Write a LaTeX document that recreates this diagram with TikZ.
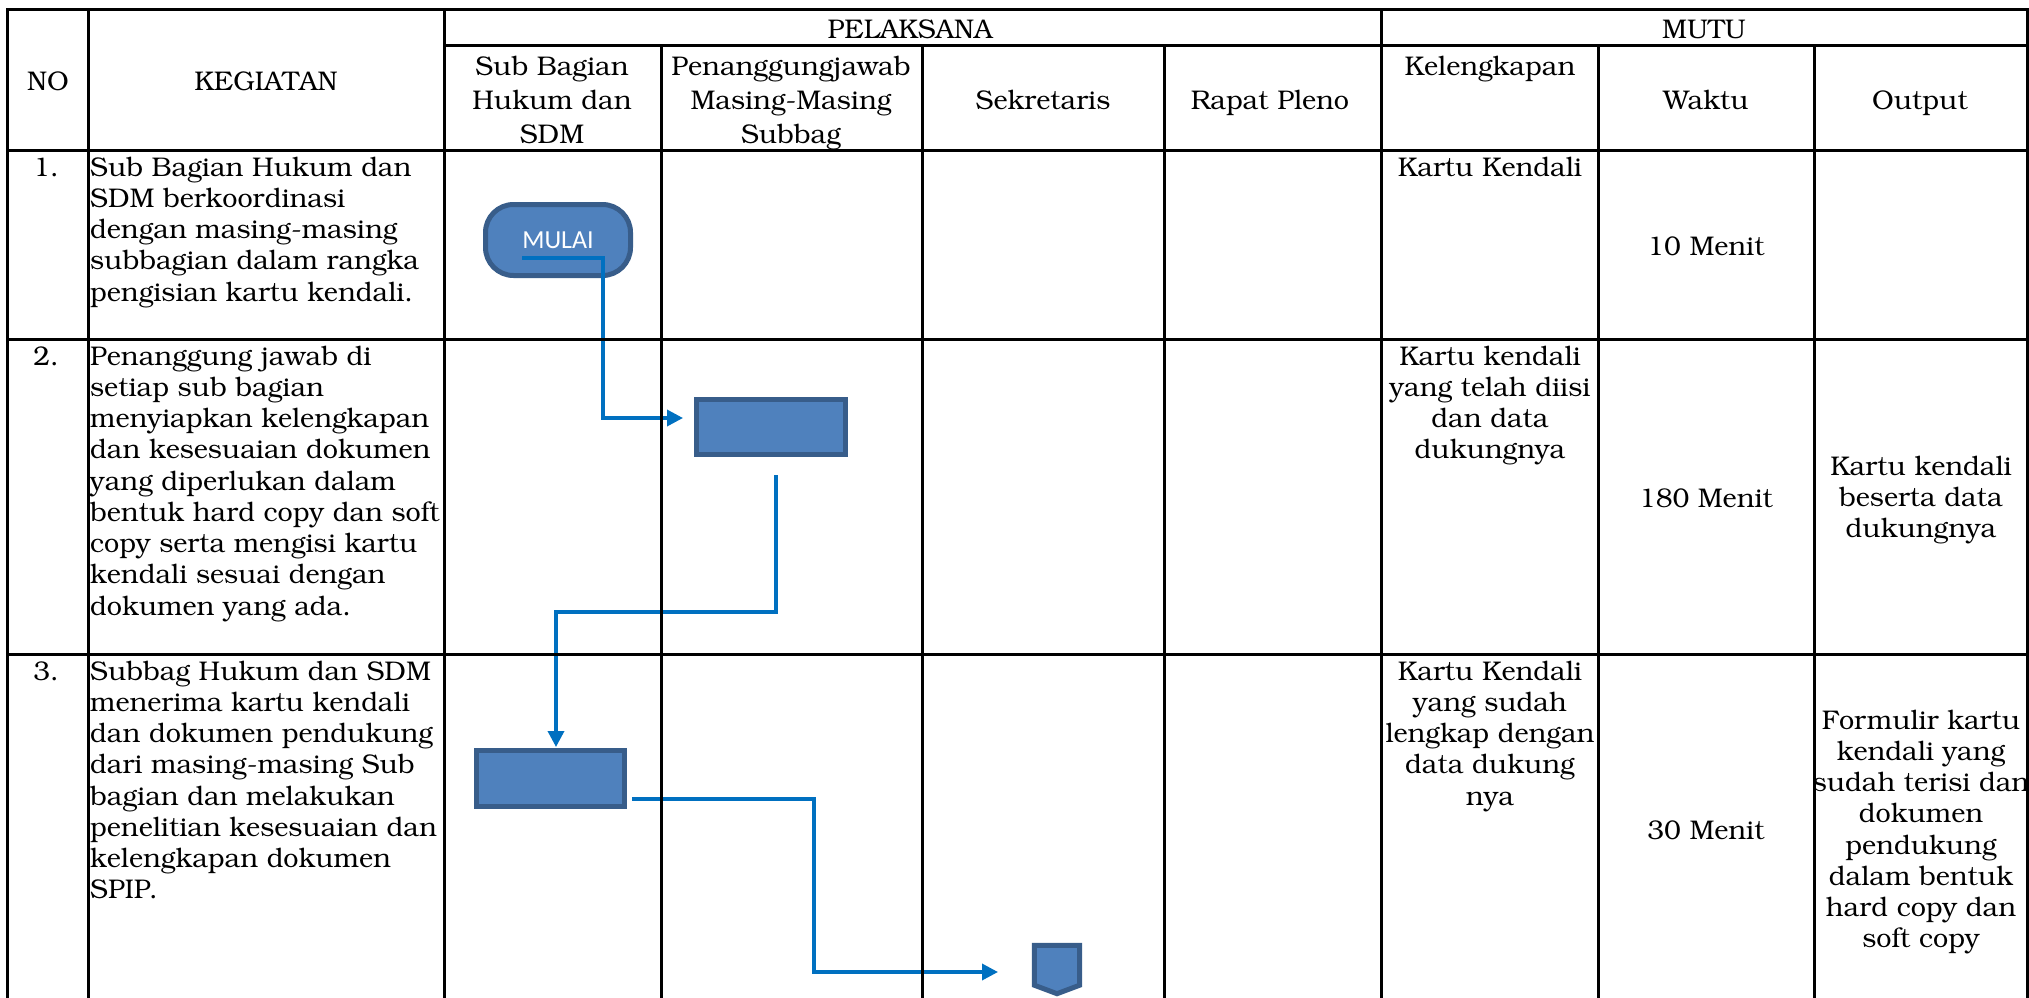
\documentclass[tikz,border=0pt]{standalone}
\usepackage[T1]{fontenc}
\usepackage{fontspec}
\newfontfamily\carlito{Carlito}
\usetikzlibrary{arrows.meta}
\newcommand\bkf{\fontencoding{T1}\fontfamily{pbk}\fontseries{m}\fontshape{n}\selectfont}
\newcommand\fls{\rule{0pt}{22pt}}
\definecolor{boxfill}{HTML}{4F81BD}
\definecolor{boxedge}{HTML}{385D8A}
\definecolor{connblue}{HTML}{0070C0}
\tikzset{
  gridline/.style={line width=3pt, line cap=rect, draw=black},
  body/.style={font=\bkf\fontsize{27}{31.25}\selectfont, inner sep=0pt},
  hdr/.style={font=\bkf\fontsize{27}{34}\selectfont, inner sep=0pt, align=center},
  proc/.style={draw=boxedge, fill=boxfill, line width=5pt, inner sep=0pt, line join=miter},
  conn/.style={draw=connblue, line width=3.5pt},
  tip/.style={-{Triangle[length=16pt,width=16pt]}},
}
\begin{document}
\begin{tikzpicture}[x=1pt,y=-1pt]
\useasboundingbox (0,0) rectangle (2029,998);
% shapes
\node[proc, rounded corners=28pt, minimum width=145pt, minimum height=71pt,
      font=\carlito\fontsize{26}{30}\selectfont, text=white] (mulai) at (558,240) {MULAI};
\node[proc, minimum width=149pt, minimum height=55pt] (pj1) at (771,427) {};
\node[proc, minimum width=148pt, minimum height=56pt] (sb2) at (550.5,778.5) {};
\node[minimum width=45pt, minimum height=48pt, inner sep=0pt] (offp) at (1057,969.5) {};
\draw[proc] (offp.north west) -- (offp.north east) -- ([yshift=8.5pt]offp.south east)
   -- (offp.south) -- ([yshift=8.5pt]offp.south west) -- cycle;
% connectors
\coordinate (s1) at (522,258); \coordinate (e1) at (683,418);
\draw[conn, tip] (s1) -| (603,418) -- (e1);
\coordinate (s2) at (776,475); \coordinate (e2) at (556,747);
\draw[conn, tip] (s2) |- (556,612) -- (e2);
\coordinate (s3) at (632,799); \coordinate (e3) at (998,972);
\draw[conn, tip] (s3) -| (814,972) -- (e3);
% grid
\draw[gridline] (7,10) -- (2027,10);
\draw[gridline] (444,46) -- (2027,46);
\draw[gridline] (7,150) -- (2027,150);
\draw[gridline] (7,339) -- (2027,339);
\draw[gridline] (7,654) -- (2027,654);
\foreach \x in {7,88,444,1381,2027} \draw[gridline] (\x,10) -- (\x,999);
\foreach \x in {661,922,1164,1598,1814} \draw[gridline] (\x,46) -- (\x,999);
% header
\node[hdr, anchor=base] (hno) at (48,90) {NO};
\node[hdr, anchor=base] (hkeg) at (266,90) {KEGIATAN};
\node[hdr, anchor=base] (hpel) at (910,39) {PELAKSANA};
\node[hdr, anchor=base] (hmutu) at (1704,39) {MUTU};
\node[hdr, anchor=north] (hsbh) at (552,53) {\fls Sub Bagian\\Hukum dan\\SDM};
\node[hdr, anchor=north] (hpj) at (791,53) {\fls Penanggungjawab\\Masing-Masing\\Subbag};
\node[hdr, anchor=base] (hsek) at (1043,109) {Sekretaris};
\node[hdr, anchor=base] (hrp) at (1270,109) {Rapat Pleno};
\node[hdr, anchor=base] (hkel) at (1490,75) {Kelengkapan};
\node[hdr, anchor=base] (hwak) at (1706,109) {Waktu};
\node[hdr, anchor=base] (hout) at (1920,109) {Output};
% numbers
\node[body, anchor=base east] (n1) at (59,176) {1.};
\node[body, anchor=base east] (n2) at (59,365) {2.};
\node[body, anchor=base east] (n3) at (59,680) {3.};
% kegiatan
\node[body, anchor=north west, align=left] (k1) at (90,154) {\fls Sub Bagian Hukum dan\\SDM berkoordinasi\\dengan masing-masing\\subbagian dalam rangka\\pengisian kartu kendali.};
\node[body, anchor=north west, align=left] (k2) at (90,343) {\fls Penanggung jawab di\\setiap sub bagian\\menyiapkan kelengkapan\\dan kesesuaian dokumen\\yang diperlukan dalam\\bentuk hard copy dan soft\\copy serta mengisi kartu\\kendali sesuai dengan\\dokumen yang ada.};
\node[body, anchor=north west, align=left] (k3) at (90,658) {\fls Subbag Hukum dan SDM\\menerima kartu kendali\\dan dokumen pendukung\\dari masing-masing Sub\\bagian dan melakukan\\penelitian kesesuaian dan\\kelengkapan dokumen\\SPIP.};
% mutu
\node[body, anchor=base] (kel1) at (1490,176) {Kartu Kendali};
\node[body, anchor=base] (w1) at (1706,255) {10 Menit};
\node[body, anchor=north, align=center] (kel2) at (1490,343) {\fls Kartu kendali\\yang telah diisi\\dan data\\dukungnya};
\node[body, anchor=base] (w2) at (1706,507) {180 Menit};
\node[body, anchor=north, align=center] (o2) at (1921,453) {\fls Kartu kendali\\beserta data\\dukungnya};
\node[body, anchor=north, align=center] (kel3) at (1490,658) {\fls Kartu Kendali\\yang sudah\\lengkap dengan\\data dukung\\nya};
\node[body, anchor=base] (w3) at (1706,839) {30 Menit};
\node[body, anchor=north, align=center] (o3) at (1921,707) {\fls Formulir kartu\\kendali yang\\sudah terisi dan\\dokumen\\pendukung\\dalam bentuk\\hard copy dan\\soft copy};
\end{tikzpicture}
\end{document}
